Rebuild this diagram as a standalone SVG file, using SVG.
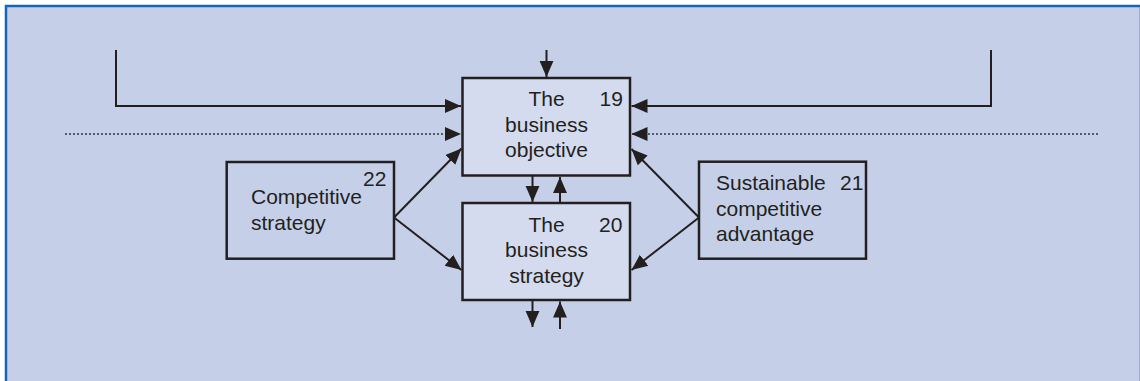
<svg xmlns="http://www.w3.org/2000/svg" width="1140" height="381" viewBox="0 0 1140 381">
<style>
.ln{stroke:#231f20;stroke-width:2;fill:none}
.dot{stroke:#555a66;stroke-width:2;stroke-dasharray:2 2;fill:none}
.box{stroke:#231f20;stroke-width:2.5}
.main{fill:#d4dbef}
.side{fill:none}
text{font-family:"Liberation Sans",Arial,sans-serif;font-size:21px;fill:#231f20}
.c{text-anchor:middle}
</style>
<defs>
<marker id="ah" markerUnits="userSpaceOnUse" markerWidth="16" markerHeight="16" viewBox="0 0 15 14" refX="15" refY="7" orient="auto">
<path d="M0,0.5 L15,7 L0,13.5 Z" fill="#231f20"/>
</marker>
</defs>
<rect x="0" y="0" width="1140" height="381" fill="#ffffff"/>
<rect x="6" y="6" width="1140" height="380" fill="#c5d0e8"/>
<line x1="1139.5" y1="7" x2="1139.5" y2="381" stroke="#9fb0d4" stroke-width="1"/>
<path d="M6,381 V6 H1140" fill="none" stroke="#1565b8" stroke-width="2.5"/>

<g id="connectors">
<line class="ln" x1="546.5" y1="50" x2="546.5" y2="77" marker-end="url(#ah)"/>
<polyline class="ln" points="116,50 116,106 461,106" marker-end="url(#ah)"/>
<polyline class="ln" points="991,50 991,106 631.5,106" marker-end="url(#ah)"/>
<line class="dot" x1="65" y1="134" x2="461" y2="134" marker-end="url(#ah)"/>
<line class="dot" x1="1098" y1="134" x2="631.5" y2="134" marker-end="url(#ah)"/>
<line class="ln" x1="394" y1="217.5" x2="461.5" y2="148.5" marker-end="url(#ah)"/>
<line class="ln" x1="394" y1="217.5" x2="461.5" y2="270" marker-end="url(#ah)"/>
<line class="ln" x1="699" y1="217.5" x2="631.5" y2="149" marker-end="url(#ah)"/>
<line class="ln" x1="699" y1="217.5" x2="631.5" y2="270" marker-end="url(#ah)"/>
<line class="ln" x1="532.5" y1="176" x2="532.5" y2="202" marker-end="url(#ah)"/>
<line class="ln" x1="560" y1="203" x2="560" y2="177" marker-end="url(#ah)"/>
<line class="ln" x1="532.5" y1="300" x2="532.5" y2="327" marker-end="url(#ah)"/>
<line class="ln" x1="560" y1="329" x2="560" y2="301.5" marker-end="url(#ah)"/>
</g>

<g id="node19">
<rect class="box main" x="462.5" y="78" width="167.5" height="97.5"/>
<text class="c" x="546.5" y="106">The</text>
<text class="c" x="546.5" y="131.7">business</text>
<text class="c" x="546.5" y="157.3">objective</text>
<text x="599.5" y="106">19</text>
</g>

<g id="node20">
<rect class="box main" x="462.5" y="203" width="167.5" height="97"/>
<text class="c" x="546.5" y="231.7">The</text>
<text class="c" x="546.5" y="257.3">business</text>
<text class="c" x="546.5" y="282.5">strategy</text>
<text x="599" y="231.7">20</text>
</g>

<g id="node22">
<rect class="box side" x="226.7" y="162" width="167.3" height="96.7"/>
<text x="251" y="204.3">Competitive</text>
<text x="251" y="229.5">strategy</text>
<text x="363" y="186">22</text>
</g>

<g id="node21">
<rect class="box side" x="699" y="161.7" width="167" height="97"/>
<text x="716" y="190">Sustainable</text>
<text x="716" y="215.5">competitive</text>
<text x="716" y="241">advantage</text>
<text x="840" y="190">21</text>
</g>
</svg>
